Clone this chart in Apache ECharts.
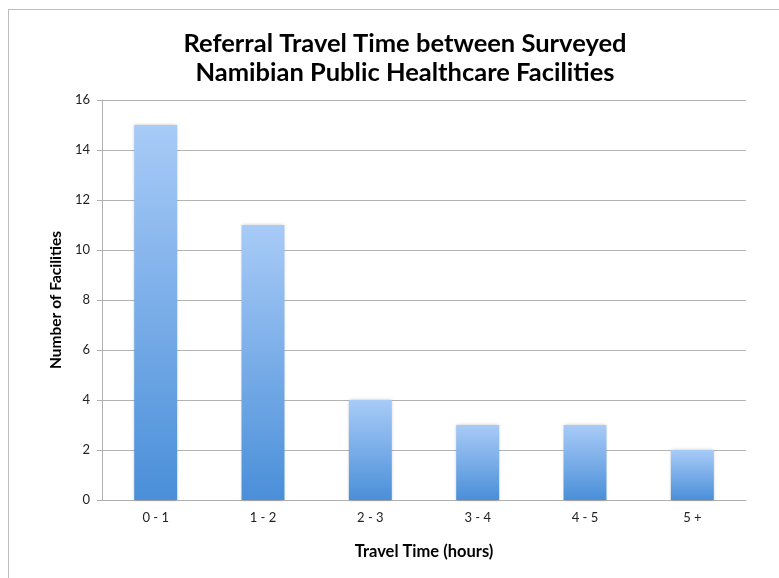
<!DOCTYPE html>
<html><head><meta charset="utf-8">
<script src="https://cdn.jsdelivr.net/npm/echarts@6/dist/echarts.min.js"></script>
<style>html,body{margin:0;padding:0;background:#fff}#c{width:779px;height:578px;position:relative}
#frame{position:absolute;left:8px;top:9px;right:-5px;bottom:-5px;border:1px solid #bdbdbd;pointer-events:none}</style>
</head><body><div id="c"></div><div id="frame" style="position:absolute"></div>
<script>
const categories = ['0 - 1', '1 - 2', '2 - 3', '3 - 4', '4 - 5', '5 +'];
const values = [15, 11, 4, 3, 3, 2];
const yTicks = [0, 2, 4, 6, 8, 10, 12, 14, 16];
const titleText = 'Referral Travel Time between Surveyed\nNamibian Public Healthcare Facilities';
const font = 'Lato, "Open Sans", sans-serif';
const chart = echarts.init(document.getElementById('c'));
chart.setOption({
  animation: false,
  title: { text: titleText, left: 400, textAlign: 'center', top: 24,
    textStyle: { fontFamily: font, fontWeight: 'bold', fontSize: 25.5, color: '#000', lineHeight: 29 } },
  grid: { left: 102, right: 33, top: 100, bottom: 78 },
  xAxis: { type: 'category', data: categories,
    axisLine: { lineStyle: { color: '#b0b0b0' } }, axisTick: { show: false },
    axisLabel: { fontFamily: font, fontSize: 13, color: '#222', margin: 11 },
    name: 'Travel Time (hours)', nameLocation: 'middle', nameGap: 43,
    nameTextStyle: { fontFamily: font, fontWeight: 'bold', fontSize: 16.5, color: '#000' } },
  yAxis: { type: 'value', min: yTicks[0], max: yTicks[yTicks.length-1], interval: 2,
    axisLine: { show: true, lineStyle: { color: '#b0b0b0' } },
    axisTick: { show: true, inside: false, length: 5, lineStyle: { color: '#b0b0b0' } },
    splitLine: { lineStyle: { color: '#b3b3b3', width: 1 } },
    axisLabel: { fontFamily: font, fontSize: 13, color: '#222', margin: 12 },
    name: 'Number of Facilities', nameLocation: 'middle', nameGap: 31,
    nameTextStyle: { fontFamily: font, fontWeight: 'bold', fontSize: 15.5, color: '#000' } },
  series: [{ type: 'bar', data: values, barWidth: '40%',
    itemStyle: { color: new echarts.graphic.LinearGradient(0, 0, 0, 1, [
      { offset: 0, color: '#a8cbf7' }, { offset: 1, color: '#4a8fd9' }]),
      shadowBlur: 3, shadowColor: 'rgba(0,0,0,0.25)', shadowOffsetX: 0, shadowOffsetY: 0 } }]
});
</script></body></html>
